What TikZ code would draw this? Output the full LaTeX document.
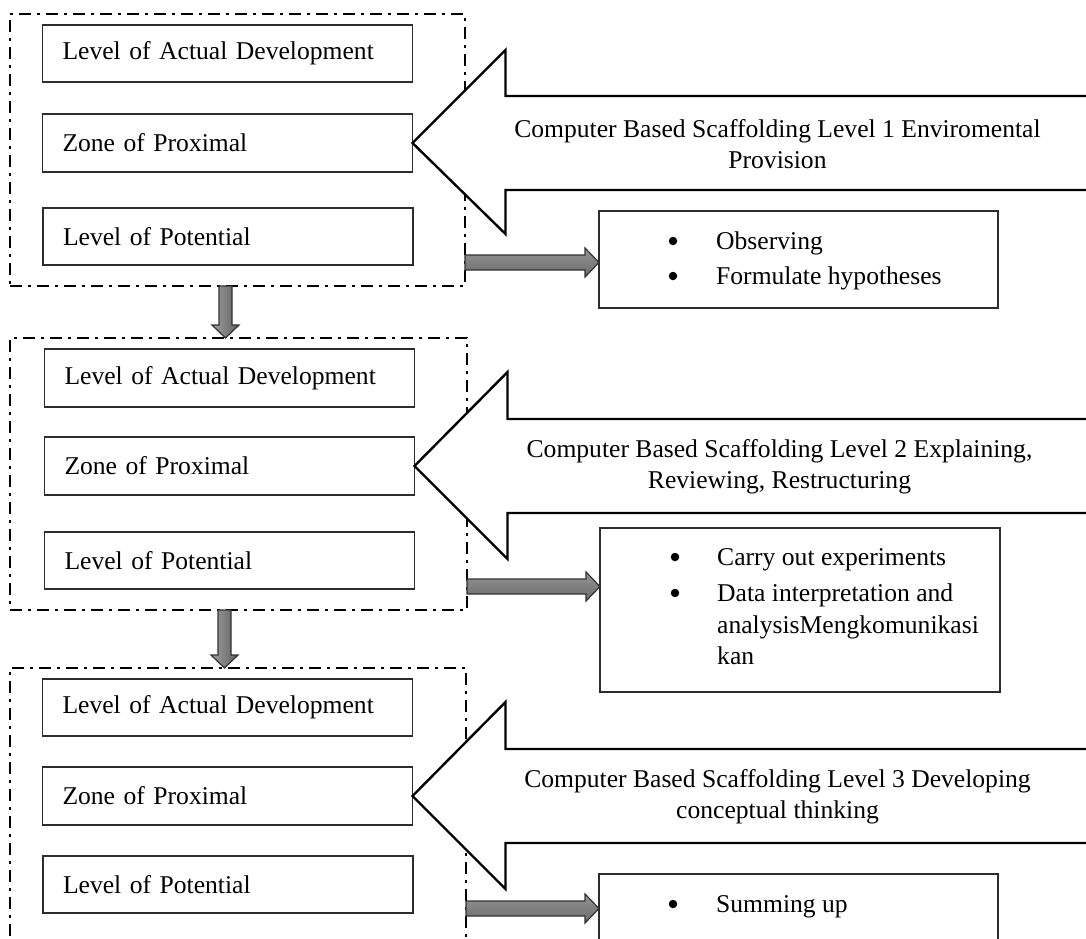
\documentclass[tikz,border=0pt]{standalone}
\usepackage{fontspec}
\setmainfont{Liberation Serif}
\usetikzlibrary{calc}
\definecolor{boxline}{RGB}{45,45,45}
\definecolor{arrowline}{RGB}{50,50,50}
\begin{document}
\begin{tikzpicture}[x=1pt,y=-1pt,
  frame/.style={draw=black, line width=2.9pt, dash pattern=on 12pt off 6pt on 3pt off 6pt, rectangle, inner sep=0pt, outer sep=0pt},
  lvl/.style={draw=boxline, line width=1.3pt, rectangle, inner sep=0pt, inner xsep=20pt, minimum height=57pt, text width=330pt, align=left, font=\fontsize{25.6}{31}\selectfont, fill=white, outer sep=0pt},
  bbox/.style={draw=boxline, line width=1.3pt, rectangle, inner sep=0pt, fill=white, outer sep=0pt},
  bigarrow/.style={draw=black, line width=2.4pt, line join=miter},
  captxt/.style={align=center, font=\fontsize{25.6}{31}\selectfont, inner sep=0pt},
  itm/.style={font=\fontsize{25.6}{31}\selectfont, inner sep=0pt, anchor=base west},
  bul/.style={circle, fill=black, inner sep=0pt, minimum size=8.5pt},
  harrow/.style={draw=arrowline, line width=1.2pt, line join=miter, top color=black!42, bottom color=black!58},
  varrow/.style={draw=arrowline, line width=1.2pt, line join=miter, left color=black!38, right color=black!62}
]
\clip (0,0) rectangle (1086,938);
\fill[white] (0,0) rectangle (1086,938);

% frames
\node[frame, minimum width=455pt, minimum height=272pt] (f1) at (237.5,150) {};
\node[frame, minimum width=457pt, minimum height=272pt] (f2) at (238.5,474) {};
\node[frame, minimum width=456pt, minimum height=290pt] (f3) at (238,813) {};

% level boxes
\node[lvl] (a1) at (227.5,53.5) {Level of Actual Development};
\node[lvl, minimum height=58pt] (z1) at (227.5,143) {Zone of Proximal};
\node[lvl] (p1) at (228,236.5) {Level of Potential};

\node[lvl, minimum height=58pt] (a2) at (229.5,378) {Level of Actual Development};
\node[lvl, minimum height=58pt] (z2) at (229.5,466) {Zone of Proximal};
\node[lvl] (p2) at (229.5,560.5) {Level of Potential};

\node[lvl] (a3) at (227.5,707.5) {Level of Actual Development};
\node[lvl, minimum height=58pt] (z3) at (227.5,796) {Zone of Proximal};
\node[lvl] (p3) at (228,884.5) {Level of Potential};

% big block arrows
\begin{scope}[shift={(z1.east)}]
\fill[white] (0,0) -- (93,-93) -- (93,-47) -- (700,-47) -- (700,47) -- (93,47) -- (93,91) -- cycle;
\draw[bigarrow] (700,-47) -- (93,-47) -- (93,-93) -- (0,0) -- (93,91) -- (93,47) -- (700,47);
\end{scope}
\begin{scope}[shift={(z2.east)}]
\fill[white] (0,0) -- (93,-94) -- (93,-47) -- (700,-47) -- (700,47) -- (93,47) -- (93,93) -- cycle;
\draw[bigarrow] (700,-47) -- (93,-47) -- (93,-94) -- (0,0) -- (93,93) -- (93,47) -- (700,47);
\end{scope}
\begin{scope}[shift={(z3.east)}]
\fill[white] (0,0) -- (93,-94) -- (93,-47) -- (700,-47) -- (700,47) -- (93,47) -- (93,93) -- cycle;
\draw[bigarrow] (700,-47) -- (93,-47) -- (93,-94) -- (0,0) -- (93,93) -- (93,47) -- (700,47);
\end{scope}

\node[captxt] (c1) at ([xshift=365pt,yshift=-1pt]z1.east) {Computer Based Scaffolding Level 1 Enviromental\\Provision};
\node[captxt] (c2) at ([xshift=365pt,yshift=-1pt]z2.east) {Computer Based Scaffolding Level 2 Explaining,\\Reviewing, Restructuring};
\node[captxt] (c3) at ([xshift=365pt,yshift=-1pt]z3.east) {Computer Based Scaffolding Level 3 Developing\\conceptual thinking};

% bullet boxes
\node[bbox, minimum width=399pt, minimum height=97pt] (bb1) at (798.5,259.5) {};
\node[bbox, minimum width=400pt, minimum height=164pt] (bb2) at (800,610) {};
\node[bbox, minimum width=399pt, minimum height=120pt] (bb3) at (798.5,934) {};

\node[bul] (o1b) at (673,241) {};
\node[itm] (o1) at (716,249) {Observing};
\node[bul] (o2b) at (673,276) {};
\node[itm] (o2) at (716,284) {Formulate hypotheses};

\node[bul] (e1b) at (675,557) {};
\node[itm] (e1) at (717,565) {Carry out experiments};
\node[bul] (e2b) at (675,593) {};
\node[itm] (e2) at (717,601) {Data interpretation and};
\node[itm] (e3) at (717,633) {analysisMengkomunikasi};
\node[itm] (e4) at (717,664) {kan};

\node[bul] (s1b) at (673,904) {};
\node[itm] (s1) at (716,912) {Summing up};

% gray arrows from frames to bullet boxes
\coordinate (h1s) at (f1.east |- 0,262.5);
\coordinate (h2s) at (f2.east |- 0,586.5);
\coordinate (h3s) at (f3.east |- 0,908.5);
\coordinate (h1e) at (bb1.west |- h1s);
\coordinate (h2e) at (bb2.west |- h2s);
\coordinate (h3e) at (bb3.west |- h3s);
\draw[harrow] ($(h1s)+(0,-7.5)$) -- ($(h1e)+(-14,-7.5)$) -- ++(0,-7) -- (h1e) -- ++(-14,14.5) -- ++(0,-7) -- ($(h1s)+(0,7.5)$) -- cycle;
\draw[harrow] ($(h2s)+(0,-7.5)$) -- ($(h2e)+(-14,-7.5)$) -- ++(0,-7) -- (h2e) -- ++(-14,14.5) -- ++(0,-7) -- ($(h2s)+(0,7.5)$) -- cycle;
\draw[harrow] ($(h3s)+(0,-7.5)$) -- ($(h3e)+(-14,-7.5)$) -- ++(0,-7) -- (h3e) -- ++(-14,14.5) -- ++(0,-7) -- ($(h3s)+(0,7.5)$) -- cycle;

% down arrows between frames
\coordinate (d1s) at (f1.south -| 225.5,0);
\coordinate (d1e) at (f2.north -| d1s);
\coordinate (d2s) at (f2.south -| 224.5,0);
\coordinate (d2e) at (f3.north -| d2s);
\draw[varrow] ($(d1s)+(-6.5,0)$) -- ($(d1e)+(-6.5,-13)$) -- ++(-7,0) -- (d1e) -- ++(13.5,-13) -- ++(-7,0) -- ($(d1s)+(6.5,0)$) -- cycle;
\draw[varrow] ($(d2s)+(-6.5,0)$) -- ($(d2e)+(-6.5,-13)$) -- ++(-7,0) -- (d2e) -- ++(13.5,-13) -- ++(-7,0) -- ($(d2s)+(6.5,0)$) -- cycle;
\end{tikzpicture}
\end{document}
